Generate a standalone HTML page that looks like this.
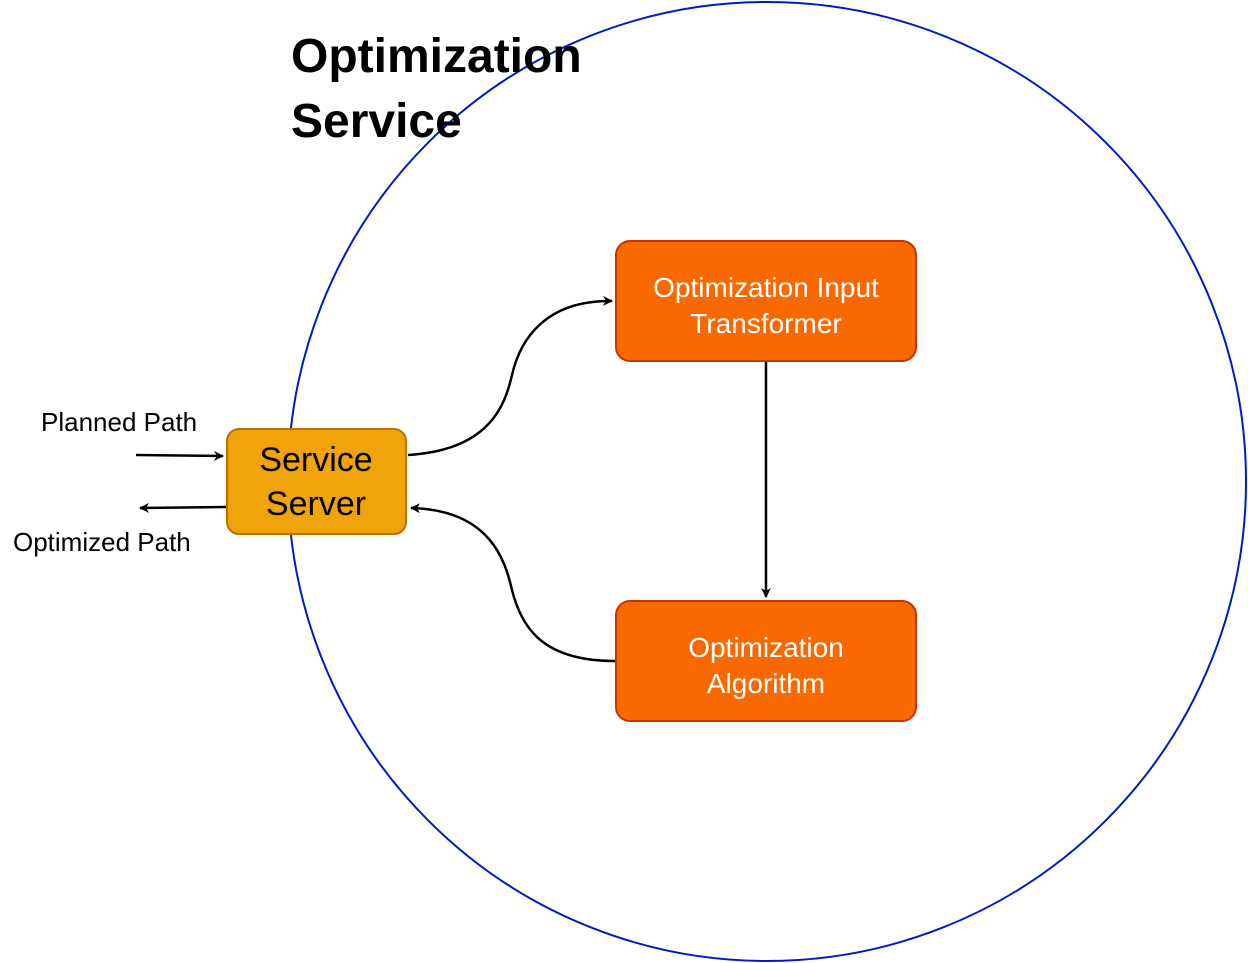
<!DOCTYPE html>
<html><head><meta charset="utf-8"><style>
html,body{margin:0;padding:0;background:#fff;}
svg{display:block;}
text{font-family:"Liberation Sans",Helvetica,Arial,sans-serif;}
</style></head><body>
<svg width="1248" height="963" viewBox="0 0 1248 963" xmlns="http://www.w3.org/2000/svg">
<defs>
<marker id="a" markerWidth="10" markerHeight="10" refX="9" refY="5" orient="auto" markerUnits="userSpaceOnUse" viewBox="0 0 10 10">
<path d="M0,0 L10,5 L0,10 L3,5 Z" fill="#000"/>
</marker>
</defs>
<ellipse cx="767" cy="481.5" rx="479" ry="479.5" fill="none" stroke="#001DBC" stroke-width="2"/>
<text x="291" y="72" font-size="48" font-weight="bold">Optimization</text>
<text x="291" y="137" font-size="48" font-weight="bold">Service</text>

<rect x="616" y="241" width="300" height="120" rx="14" fill="#fa6800" stroke="#c73500" stroke-width="2"/>
<text x="766" y="297" font-size="28" fill="#fff" text-anchor="middle">Optimization Input</text>
<text x="766" y="333" font-size="28" fill="#fff" text-anchor="middle">Transformer</text>

<rect x="616" y="601" width="300" height="120" rx="14" fill="#fa6800" stroke="#c73500" stroke-width="2"/>
<text x="766" y="657" font-size="28" fill="#fff" text-anchor="middle">Optimization</text>
<text x="766" y="693" font-size="28" fill="#fff" text-anchor="middle">Algorithm</text>

<rect x="227" y="429" width="179" height="105" rx="12" fill="#f0a30a" stroke="#bd7000" stroke-width="2"/>
<text x="316" y="471" font-size="34" fill="#000" text-anchor="middle">Service</text>
<text x="316" y="515" font-size="34" fill="#000" text-anchor="middle">Server</text>

<path d="M408,455 C490,450 505,405 512,375 C520,340 545,300 612,301" fill="none" stroke="#000" stroke-width="2.5" marker-end="url(#a)"/>
<path d="M766,362 L766,597" fill="none" stroke="#000" stroke-width="2.5" marker-end="url(#a)"/>
<path d="M615,661 C545,661 522,630 512,590 C505,560 490,510 411,508" fill="none" stroke="#000" stroke-width="2.5" marker-end="url(#a)"/>
<path d="M136,455 L223,456" fill="none" stroke="#000" stroke-width="2.5" marker-end="url(#a)"/>
<path d="M226,507 L140,508" fill="none" stroke="#000" stroke-width="2.5" marker-end="url(#a)"/>

<text x="41" y="431" font-size="26">Planned Path</text>
<text x="13" y="551" font-size="26">Optimized Path</text>
</svg>
</body></html>
